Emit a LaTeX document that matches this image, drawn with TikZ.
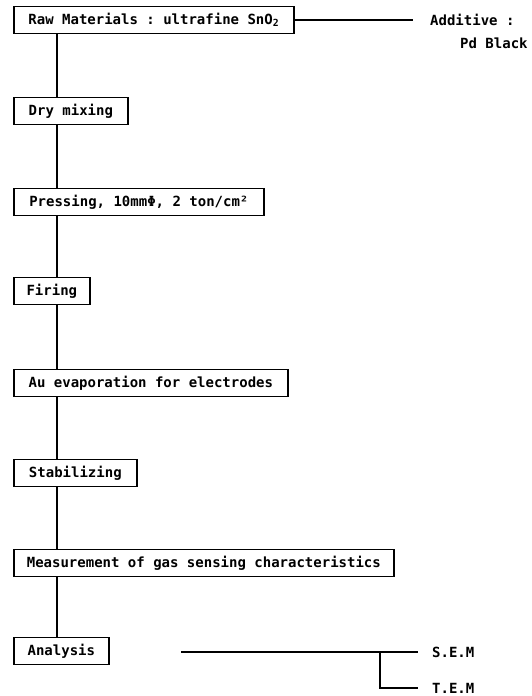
\documentclass[tikz,border=0pt]{standalone}
\usepackage{fontspec}
\setmonofont{DejaVu Sans Mono}
\begin{document}
\begin{tikzpicture}[x=1pt,y=-1pt,
  txt/.style={font=\ttfamily\bfseries\fontsize{14}{16}\selectfont},
  stepbox/.style={txt, draw, line width=1.7pt, minimum height=27pt, inner xsep=12pt, anchor=west},
  conn/.style={line width=1.7pt}]
\useasboundingbox (0,0) rectangle (532,696);
\coordinate (spine) at (57,0);
\node[stepbox, minimum width=280pt] (raw) at (13,20) {Raw Materials : ultrafine SnO\textsubscript{2}};
\node[stepbox, minimum width=114pt] (dry) at (13,111) {Dry mixing};
\node[stepbox, minimum width=250pt] (press) at (13,202) {Pressing, 10mmΦ, 2 ton/cm²};
\node[stepbox, minimum width=76pt] (fire) at (13,291) {Firing};
\node[stepbox, minimum width=274pt] (au) at (13,383) {Au evaporation for electrodes};
\node[stepbox, minimum width=123pt] (stab) at (13,473) {Stabilizing};
\node[stepbox, minimum width=380pt] (meas) at (13,563) {Measurement of gas sensing characteristics};
\node[stepbox, minimum width=95pt] (ana) at (13,651) {Analysis};
\foreach \a/\b in {raw/dry,dry/press,press/fire,fire/au,au/stab,stab/meas,meas/ana}
  \draw[conn] (\a.south -| spine) -- (\b.north -| spine);
% additive
\node[txt, anchor=west, inner sep=0pt] (add) at (430,20) {Additive :};
\node[txt, anchor=west, inner sep=0pt] (pd) at (460,43) {Pd Black};
\coordinate (addend) at (413,20);
\draw[conn] (raw.east) -- (addend);
% analysis branches
\node[txt, anchor=west, inner sep=0pt] (sem) at (432,652) {S.E.M};
\node[txt, anchor=west, inner sep=0pt] (tem) at (432,688) {T.E.M};
\coordinate (a1) at (181,652);
\coordinate (a2) at (418,652);
\coordinate (b1) at (380,652);
\coordinate (b3) at (418,688);
\draw[conn] (a1) -- (a2);
\draw[conn] (b1) |- (b3);
\end{tikzpicture}
\end{document}
